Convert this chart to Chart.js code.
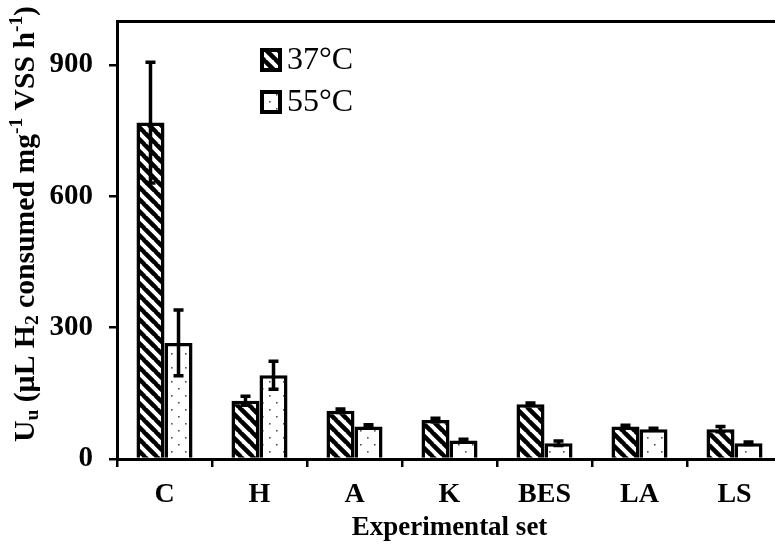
<!DOCTYPE html>
<html>
<head>
<meta charset="utf-8">
<script src="https://cdn.jsdelivr.net/npm/chart.js@4.4.1/dist/chart.umd.min.js"></script>
<style>
  html, body { margin: 0; padding: 0; background: #fff; overflow: hidden; }
  #uptake { display: block; }
</style>
</head>
<body>
<canvas id="uptake" width="785" height="544" style="width:785px;height:544px"></canvas>
<script>
// Hydrogen uptake rate per experimental set
const categories = ['C', 'H', 'A', 'K', 'BES', 'LA', 'LS'];
const seriesLabels = ['37°C', '55°C'];
const uptake37 = [768, 133, 110, 89, 125, 74, 68];
const uptake55 = [265, 191, 74, 42, 36, 68, 36];
const error37 = [138, 10, 4, 4, 3, 3, 6];
const error55 = [75, 32, 4, 3, 5, 2, 3];
const yTicks = [0, 300, 600, 900];

const SERIF = "'Liberation Serif', 'Times New Roman', serif";

// hatch fill: thick backslash stripes
function stripePattern() {
    const s = 12;
    const c = document.createElement('canvas');
    c.width = s; c.height = s;
    const g = c.getContext('2d');
    g.fillStyle = '#fff';
    g.fillRect(0, 0, s, s);
    g.strokeStyle = '#000';
    g.lineWidth = 4.5;
    g.beginPath();
    for (let k = -s; k <= s; k += s) {
        g.moveTo(k - 1, -1);
        g.lineTo(k + s + 1, s + 1);
    }
    g.stroke();
    return g.createPattern(c, 'repeat');
}

// sparse dotted fill
function dotPattern() {
    const s = 14;
    const c = document.createElement('canvas');
    c.width = s; c.height = s;
    const g = c.getContext('2d');
    g.fillStyle = '#fff';
    g.fillRect(0, 0, s, s);
    g.fillStyle = '#555';
    g.fillRect(3, 3, 1.6, 1.6);
    g.fillRect(10, 10, 1.6, 1.6);
    return g.createPattern(c, 'repeat');
}

const fills = [stripePattern(), dotPattern()];
const errors = [error37, error55];

// error bars drawn over the bars
const errorBars = {
    id: 'errorBars',
    afterDatasetsDraw(chart) {
        const ctx = chart.ctx;
        const y = chart.scales.y;
        ctx.save();
        ctx.strokeStyle = '#000';
        ctx.lineWidth = 3.5;
        chart.data.datasets.forEach((ds, i) => {
            const meta = chart.getDatasetMeta(i);
            meta.data.forEach((bar, j) => {
                const v = ds.data[j], e = errors[i][j];
                const top = y.getPixelForValue(v + e);
                const bot = y.getPixelForValue(v - e);
                ctx.beginPath();
                ctx.moveTo(bar.x, top); ctx.lineTo(bar.x, bot);
                ctx.moveTo(bar.x - 5, top); ctx.lineTo(bar.x + 5, top);
                ctx.moveTo(bar.x - 5, bot); ctx.lineTo(bar.x + 5, bot);
                ctx.stroke();
            });
        });
        ctx.restore();
    }
};

// legend inside the plot area
const insideLegend = {
    id: 'insideLegend',
    afterDraw(chart) {
        const ctx = chart.ctx;
        ctx.save();
        chart.data.datasets.forEach((ds, i) => {
            const cy = 60 + i * 42;
            ctx.fillStyle = ds.backgroundColor;
            ctx.fillRect(262, cy - 10, 18, 20);
            ctx.strokeStyle = '#000';
            ctx.lineWidth = 4;
            ctx.strokeRect(262, cy - 10, 18, 20);
            ctx.fillStyle = '#000';
            ctx.font = '32px ' + SERIF;
            ctx.textBaseline = 'middle';
            ctx.fillText(ds.label, 287, cy + 1);
        });
        ctx.restore();
    }
};

// rotated y title with sub- and superscripts
const yTitleParts = [
    ['U', 0], ['u', 1], [' (µL H', 0], ['2', 1], [' consumed mg', 0],
    ['-1', -1], [' VSS h', 0], ['-1', -1], [')', 0]
];
const yTitle = {
    id: 'yTitle',
    afterDraw(chart) {
        const ctx = chart.ctx;
        const big = 'bold 29px ' + SERIF, small = 'bold 19px ' + SERIF;
        ctx.save();
        let total = 0;
        yTitleParts.forEach(([t, k]) => {
            ctx.font = k ? small : big;
            total += ctx.measureText(t).width;
        });
        ctx.translate(34, 442);
        ctx.rotate(-Math.PI / 2);
        ctx.scale(436 / total, 1);
        ctx.fillStyle = '#000';
        ctx.textBaseline = 'alphabetic';
        let x = 0;
        yTitleParts.forEach(([t, k]) => {
            ctx.font = k ? small : big;
            const dy = k === 1 ? 4 : (k === -1 ? -12 : 0);
            ctx.fillText(t, x, dy);
            x += ctx.measureText(t).width;
        });
        ctx.restore();
    }
};

const axisGrid = {
    display: true,
    drawOnChartArea: false,
    drawTicks: true,
    tickLength: 8,
    lineWidth: 2.5,
    color: '#000'
};

new Chart(document.getElementById('uptake'), {
    type: 'bar',
    data: {
        labels: categories,
        datasets: [
            { label: seriesLabels[0], data: uptake37, backgroundColor: fills[0] },
            { label: seriesLabels[1], data: uptake55, backgroundColor: fills[1] }
        ]
    },
    options: {
        responsive: false,
        animation: false,
        devicePixelRatio: 1,
        layout: { padding: { top: 21, right: 3, left: 0, bottom: 0 } },
        datasets: {
            bar: {
                borderColor: '#000',
                borderWidth: 3.5,
                categoryPercentage: 0.59,
                barPercentage: 1.0
            }
        },
        plugins: {
            legend: { display: false },
            tooltip: { enabled: false }
        },
        scales: {
            x: {
                grid: axisGrid,
                border: { display: true, width: 3, color: '#000' },
                ticks: {
                    color: '#000',
                    font: { family: SERIF, size: 28, weight: 'bold' },
                    padding: 11,
                    maxRotation: 0
                },
                title: {
                    display: true,
                    text: 'Experimental set',
                    color: '#000',
                    font: { family: SERIF, size: 27, weight: 'bold' },
                    padding: { top: 0, bottom: 0 }
                },
                afterFit: s => { s.height = 85; }
            },
            x2: {
                type: 'category',
                position: 'top',
                grid: { display: false },
                ticks: { display: false },
                border: { display: true, width: 3, color: '#000' },
                afterFit: s => { s.height = 0; }
            },
            y: {
                min: 0,
                max: 1000,
                afterBuildTicks: s => { s.ticks = yTicks.map(v => ({ value: v })); },
                grid: axisGrid,
                border: { display: true, width: 3, color: '#000' },
                ticks: {
                    color: '#000',
                    font: { family: SERIF, size: 29, weight: 'bold' },
                    padding: 16
                },
                afterFit: s => {
                    s.width = 117;
                    s.paddingTop = 0;
                    s.paddingBottom = 0;
                }
            }
        }
    },
    plugins: [errorBars, insideLegend, yTitle]
});
</script>
</body>
</html>
